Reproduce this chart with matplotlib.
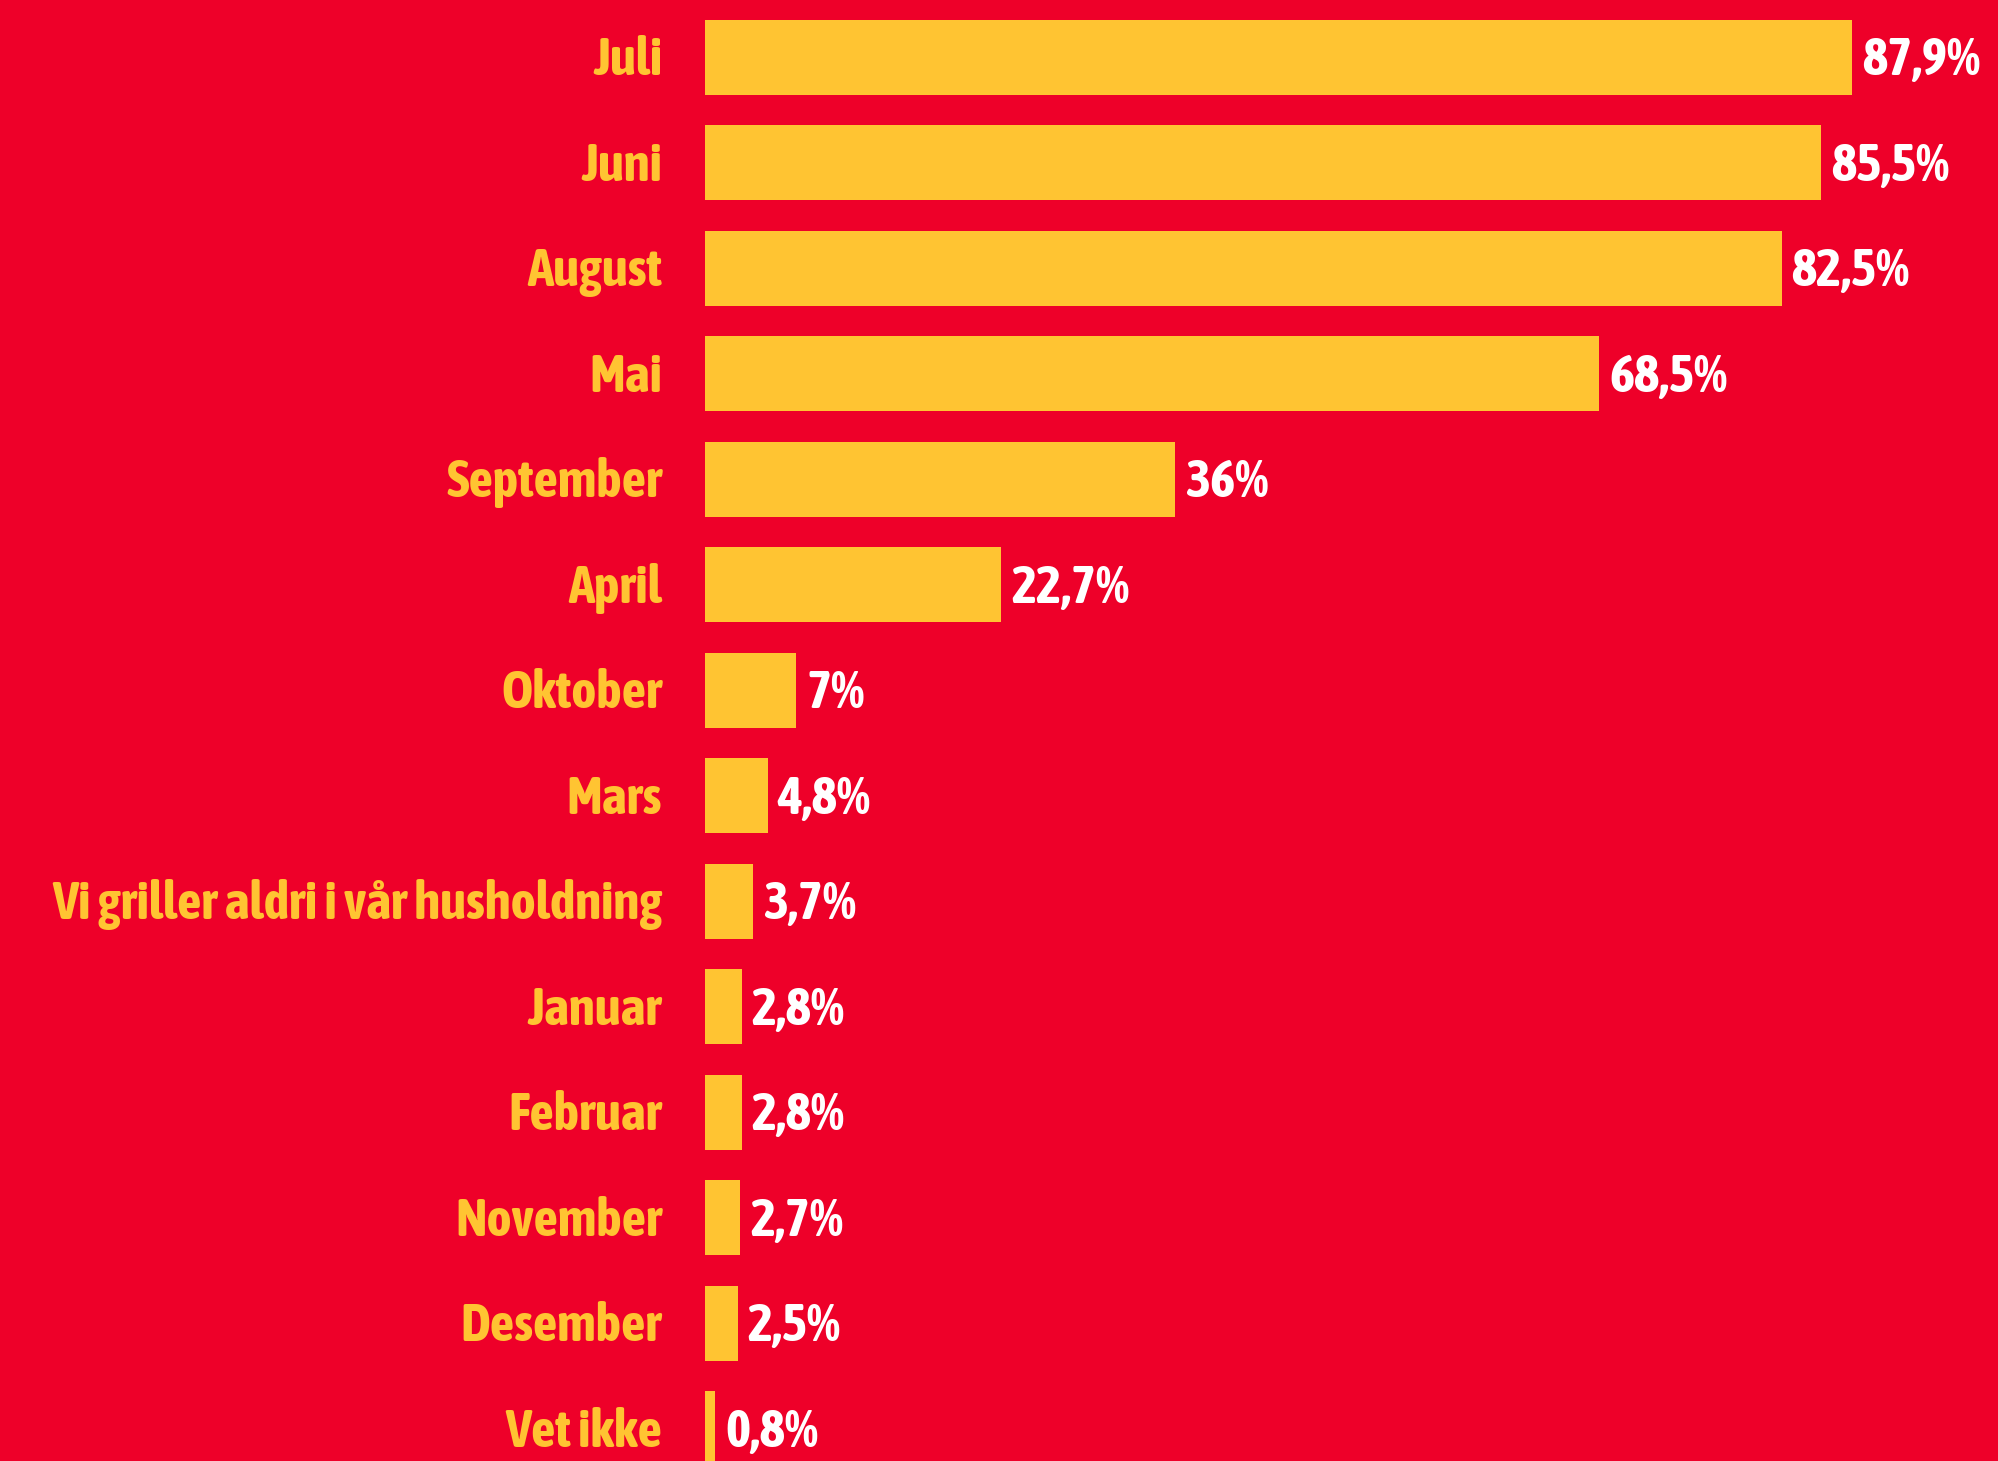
import matplotlib.pyplot as plt
from matplotlib import font_manager

# Data
categories = ["Juli", "Juni", "August", "Mai", "September", "April", "Oktober",
              "Mars", "Vi griller aldri i vår husholdning", "Januar", "Februar",
              "November", "Desember", "Vet ikke"]
values = [87.9, 85.5, 82.5, 68.5, 36, 22.7, 7, 4.8, 3.7, 2.8, 2.8, 2.7, 2.5, 0.8]
value_labels = ["87,9%", "85,5%", "82,5%", "68,5%", "36%", "22,7%", "7%",
                "4,8%", "3,7%", "2,8%", "2,8%", "2,7%", "2,5%", "0,8%"]

bg = "#EE0029"
bar_color = "#FFC432"

# pick a narrow/condensed face if one is installed
entries = font_manager.fontManager.ttflist
family, stretch = "DejaVu Sans", "normal"
for f in entries:
    if ("Narrow" in f.name or "Condensed" in f.name) and f.weight in ("bold", 700, "heavy", 800, 900):
        family = f.name
        break
else:
    for f in entries:
        if str(f.stretch) in ("condensed", "semi-condensed", "extra-condensed") and f.weight in ("bold", 700):
            family, stretch = f.name, str(f.stretch)
            break
fonts = [family, "DejaVu Sans"]

W, H, dpi = 1998, 1461, 100
fig = plt.figure(figsize=(W / dpi, H / dpi), dpi=dpi, facecolor=bg)

# axes starts where the bars start, runs to the right edge
left_px = 705
ax = fig.add_axes([left_px / W, 0, 1 - left_px / W, 1])
ax.set_facecolor(bg)

px_per_pct = 13.05
ax.set_xlim(0, (W - left_px) / px_per_pct)
pitch = 105.5
first_center = 57.3
ax.set_ylim((H - first_center) / pitch, -first_center / pitch)

ypos = list(range(len(categories)))
ax.barh(ypos, values, height=0.71, color=bar_color, linewidth=0)

for spine in ax.spines.values():
    spine.set_visible(False)
ax.set_xticks([])
ax.set_yticks([])

pt = 72 / dpi  # points per pixel
fs = 38.5
texts = []
for y, v, lab, cat in zip(ypos, values, value_labels, categories):
    t1 = ax.annotate(lab, xy=(v, y), xytext=(10 * pt, -18 * pt), textcoords="offset points",
                     ha="left", va="baseline", color="white", fontsize=fs,
                     fontweight="bold", family=fonts, fontstretch=stretch,
                     annotation_clip=False)
    t2 = ax.annotate(cat, xy=(0, y), xytext=(-43 * pt, -18 * pt), textcoords="offset points",
                     ha="right", va="baseline", color=bar_color, fontsize=fs,
                     fontweight="bold", family=fonts, fontstretch=stretch,
                     annotation_clip=False)
    texts += [t1, t2]

# shrink text if the longest label does not fit in the left margin
renderer = fig.canvas.get_renderer()
longest = texts[2 * categories.index("Vi griller aldri i vår husholdning") + 1]
w = longest.get_window_extent(renderer).width
if w > 630:
    new_fs = fs * 630 / w
    for t in texts:
        t.set_fontsize(new_fs)
        x0, y0 = t.xyann
        t.xyann = (x0, y0 * new_fs / fs)

fig.savefig("out.png", dpi=dpi, facecolor=bg)
